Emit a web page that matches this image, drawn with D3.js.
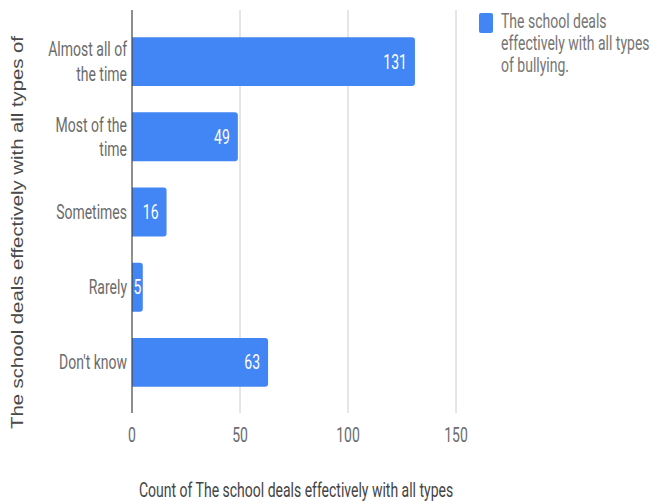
<!DOCTYPE html>
<html>
<head>
<meta charset="utf-8">
<script src="https://cdn.jsdelivr.net/npm/d3@7"></script>
<style>
  html, body { margin: 0; padding: 0; background: #fff; }
  svg { display: block; }
</style>
</head>
<body>
<svg id="chart" width="663" height="504"></svg>
<script>
const categories = [["Almost all of", "the time"], ["Most of the", "time"], ["Sometimes"], ["Rarely"], ["Don't know"]];
const values = [131, 49, 16, 5, 63];
const xTicks = [0, 50, 100, 150];
const seriesName = ["The school deals", "effectively with all types", "of bullying."];
const xTitle = "Count of The school deals effectively with all types";
const yTitle = "The school deals effectively with all types of";

const SX = 0.70;
const FS = 20;
const svg = d3.select("#chart");

const x = d3.scaleLinear().domain([0, 150]).range([132, 456]);
const keys = categories.map(c => c.join(" "));
const y = d3.scaleBand().domain(keys).range([24, 400]).paddingInner(0.35).paddingOuter(0.175);

function ctext(g, tx, ty, str, anchor, color, size) {
  return g.append("text")
    .attr("transform", `translate(${tx},${ty}) scale(${SX},1)`)
    .attr("text-anchor", anchor)
    .attr("fill", color)
    .style("font-family", "Roboto, sans-serif")
    .style("font-size", (size || FS) + "px")
    .text(str);
}

// gridlines
svg.append("g").selectAll("line").data(xTicks.slice(1)).join("line")
  .attr("x1", d => x(d)).attr("x2", d => x(d))
  .attr("y1", 10).attr("y2", 413)
  .attr("stroke", "#cccccc").attr("stroke-width", 1);

// bars
const bw = y.bandwidth();
const r = 3;
svg.append("g").selectAll("path").data(values).join("path")
  .attr("d", (v, i) => {
    const x0 = x(0), x1 = x(v), y0 = y(keys[i]), y1 = y0 + bw;
    return `M${x0},${y0}H${x1 - r}Q${x1},${y0} ${x1},${y0 + r}V${y1 - r}Q${x1},${y1} ${x1 - r},${y1}H${x0}Z`;
  })
  .attr("fill", "#4285f4");

// axis line
svg.append("line").attr("x1", x(0)).attr("x2", x(0)).attr("y1", 10).attr("y2", 413)
  .attr("stroke", "#444444").attr("stroke-width", 1.2);

// value labels
const vl = svg.append("g");
values.forEach((v, i) => {
  const cy = y(keys[i]) + bw / 2 + 7;
  const w = x(v) - x(0);
  if (w < 20) ctext(vl, x(0) + w / 2, cy, String(v), "middle", "#ffffff");
  else ctext(vl, x(v) - 8, cy, String(v), "end", "#ffffff");
});

// category labels
const cl = svg.append("g");
categories.forEach((lines, i) => {
  const cy = y(keys[i]) + bw / 2;
  const lh = 24.5;
  const start = cy - (lines.length - 1) * lh / 2 + 7;
  lines.forEach((ln, j) => ctext(cl, 127, start + j * lh, ln, "end", "#6b6b6b"));
});

// x tick labels
const tl = svg.append("g");
xTicks.forEach(t => ctext(tl, x(t), 442, String(t), "middle", "#6b6b6b"));

// x title
ctext(svg, 139, 497, xTitle, "start", "#444444");

// y title
svg.append("text")
  .attr("transform", "translate(23,232.5) rotate(-90)")
  .attr("text-anchor", "middle")
  .attr("fill", "#4a4a4a")
  .style("font-family", "'Liberation Sans', Arial, sans-serif")
  .style("font-size", "16px")
  .attr("textLength", 393)
  .attr("lengthAdjust", "spacingAndGlyphs")
  .text(yTitle);

// legend
const lg = svg.append("g");
lg.append("rect").attr("x", 479).attr("y", 13).attr("width", 14).attr("height", 20)
  .attr("rx", 2).attr("fill", "#4285f4");
seriesName.forEach((s, j) => ctext(lg, 501, 28 + j * 22, s, "start", "#757575"));
</script>
</body>
</html>
